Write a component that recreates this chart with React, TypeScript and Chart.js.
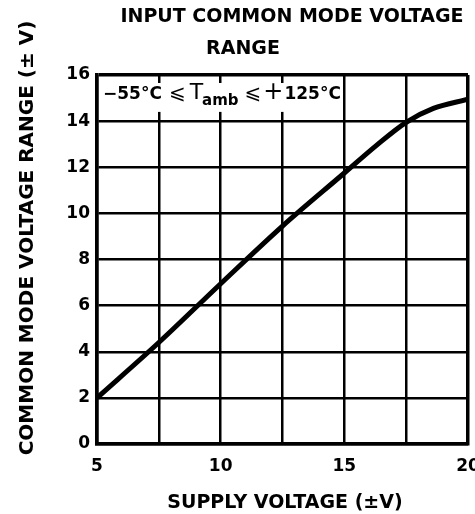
import React, { useEffect, useRef } from 'react';
import { Chart, registerables } from 'chart.js';

Chart.register(...registerables);

const supplyVoltage = [5, 7.5, 10, 12.5, 15, 16.3, 17.5, 18.6, 20];
const cmRange = [2, 4.4, 6.95, 9.45, 11.75, 12.95, 13.95, 14.55, 14.95];
const xLabelValues = [5, 10, 15, 20];
const titleLines = ['INPUT COMMON MODE VOLTAGE', 'RANGE'];
const xTitle = 'SUPPLY VOLTAGE (\u00B1V)';
const yTitle = 'COMMON MODE VOLTAGE RANGE (\u00B1 V)';
const tempLabel = { low: '\u221255\u00B0C', le: '\u2A7D', t: 'T', sub: 'amb', plus: '+', high: '125\u00B0C' };

const FONT = '"DejaVu Sans", sans-serif';

const textPlugin = {
  id: 'textPlugin',
  beforeDatasetsDraw(chart: any) {
    const { ctx, chartArea, scales } = chart;
    const x15 = scales.x.getPixelForValue(15);
    const yBottom = scales.y.getPixelForValue(14.4);
    ctx.save();
    ctx.fillStyle = '#fff';
    ctx.fillRect(chartArea.left + 2, chartArea.top + 8, x15 - 1.5 - (chartArea.left + 2), yBottom - (chartArea.top + 8));
    ctx.fillStyle = '#000';
    ctx.textBaseline = 'alphabetic';
    ctx.textAlign = 'left';
    let x = chartArea.left + 6;
    const base = chartArea.top + 24;
    const put = (s: string, font: string, dy: number, gapAfter: number) => {
      ctx.font = font;
      ctx.fillText(s, x, base + dy);
      x += ctx.measureText(s).width + gapAfter;
    };
    put(tempLabel.low, `bold 17px ${FONT}`, 0, 7);
    put(tempLabel.le, `20px ${FONT}`, 0, 4);
    put(tempLabel.t, `22px ${FONT}`, 0, -1);
    put(tempLabel.sub, `bold 15px ${FONT}`, 6, 6);
    put(tempLabel.le, `20px ${FONT}`, 0, 2);
    put(tempLabel.plus, `24px ${FONT}`, 0, 1);
    put(tempLabel.high, `bold 17px ${FONT}`, 0, 0);
    ctx.restore();
  },
  afterDraw(chart: any) {
    const { ctx } = chart;
    ctx.save();
    ctx.fillStyle = '#000';
    ctx.textAlign = 'center';
    ctx.textBaseline = 'alphabetic';
    ctx.font = `bold 19px ${FONT}`;
    ctx.fillText(titleLines[0], 292, 22);
    ctx.fillText(titleLines[1], 243, 54);
    ctx.fillText(xTitle, 285, 508);
    ctx.translate(33, 238);
    ctx.rotate(-Math.PI / 2);
    ctx.font = `bold 20px ${FONT}`;
    ctx.fillText(yTitle, 0, 0);
    ctx.restore();
  },
};

export default function App() {
  const ref = useRef<HTMLCanvasElement | null>(null);
  useEffect(() => {
    if (!ref.current) return;
    Chart.defaults.color = '#000';
    const chart = new Chart(ref.current, {
      type: 'line',
      data: {
        datasets: [
          {
            data: supplyVoltage.map((v, i) => ({ x: v, y: cmRange[i] })),
            borderColor: '#000',
            borderWidth: 5,
            pointRadius: 0,
            cubicInterpolationMode: 'monotone',
            fill: false,
          },
        ],
      },
      options: {
        responsive: false,
        animation: false,
        layout: { padding: { top: 75, right: 7, left: 0, bottom: 0 } },
        plugins: { legend: { display: false }, tooltip: { enabled: false }, title: { display: false } },
        scales: {
          x: {
            type: 'linear',
            min: 5,
            max: 20,
            afterFit: (s: any) => {
              s.height = 70;
              s.paddingLeft = 0;
              s.paddingRight = 0;
            },
            ticks: {
              stepSize: 2.5,
              autoSkip: false,
              maxRotation: 0,
              padding: 12,
              font: { family: FONT, size: 17, weight: 'bold' },
              color: '#000',
              callback: (v: any) => (xLabelValues.includes(Number(v)) ? String(v) : ''),
            },
            grid: {
              color: '#000',
              lineWidth: (c: any) => (c.tick && c.tick.value === 20 ? 3.5 : 2.5),
              drawTicks: false,
            },
            border: { color: '#000', width: 3.5 },
          },
          y: {
            min: 0,
            max: 16,
            afterFit: (s: any) => {
              s.width = 97;
            },
            ticks: {
              stepSize: 2,
              padding: 7,
              font: { family: FONT, size: 17, weight: 'bold' },
              color: '#000',
            },
            grid: {
              color: '#000',
              lineWidth: (c: any) => (c.tick && c.tick.value === 16 ? 3.5 : 2.5),
              drawTicks: false,
            },
            border: { color: '#000', width: 3.5 },
          },
        },
      },
      plugins: [textPlugin],
    } as any);
    return () => chart.destroy();
  }, []);
  return (
    <div style={{ position: 'absolute', left: 0, top: 0, width: 475, height: 514, background: '#fff' }}>
      <canvas ref={ref} width={475} height={514} />
    </div>
  );
}
